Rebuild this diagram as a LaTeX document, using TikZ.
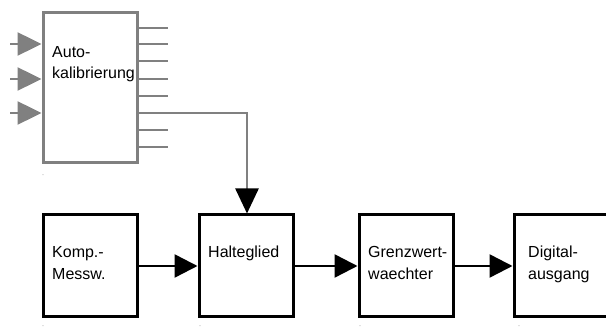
\documentclass[tikz,border=0pt]{standalone}
\usepackage{fontspec}
\setmainfont{Liberation Sans}
\usetikzlibrary{arrows.meta}
\definecolor{lgray}{HTML}{808080}
\tikzset{
  blk/.style={draw=black, line width=3pt, minimum width=94pt, minimum height=102pt, inner sep=0pt},
  gblk/.style={draw=lgray, line width=3pt, minimum width=94pt, minimum height=150pt, inner sep=0pt},
  lbl/.style={anchor=base west, inner sep=0pt, font=\fontsize{16}{22}\selectfont},
  tinymark/.style={inner sep=0pt, text=lgray, font=\fontsize{4}{4}\selectfont},
  barrow/.style={line width=2.5pt, -{Triangle[length=23pt, width=23pt]}},
  garrow/.style={draw=lgray, line width=2.5pt, -{Triangle[length=24pt, width=23pt, lgray]}},
  stub/.style={draw=lgray, line width=2.5pt},
}
\begin{document}
\begin{tikzpicture}[x=1pt, y=1pt]
\useasboundingbox (0,0) rectangle (606,329);
% Autokalibrierung block
\node[gblk] (auto) at (90,241) {};
\node[lbl] (autot1) at (52,271) {Auto-};
\node[lbl] (autot2) at (52,250) {kalibrierung};
\node[tinymark] (am) at (43,153) {''};
% inputs
\coordinate (i1) at (10,285);
\coordinate (i2) at (10,250);
\coordinate (i3) at (10,216);
\draw[garrow] (i1) -- (i1 -| auto.west);
\draw[garrow] (i2) -- (i2 -| auto.west);
\draw[garrow] (i3) -- (i3 -| auto.west);
% output stubs
\foreach \yy/\nm in {301/o1,285/o2,268/o3,250/o4,233/o5,216/o6,199/o7,182/o8}{
  \coordinate (\nm) at (168,\yy);
  \draw[stub] (auto.east |- \nm) -- (\nm);
}
% bottom blocks
\node[blk] (komp) at (90,63) {};
\node[blk] (halt) at (246,63) {};
\node[blk] (grenz) at (406,63) {};
\node[blk] (digi) at (561,63) {};
\node[lbl] (kt1) at (52,71) {Komp.-};
\node[lbl] (kt2) at (52,49) {Messw.};
\node[lbl] (ht1) at (208,71) {Halteglied};
\node[lbl] (gt1) at (368,71) {Grenzwert-};
\node[lbl] (gt2) at (368,49) {waechter};
\node[lbl] (dt1) at (528,71) {Digital-};
\node[lbl] (dt2) at (528,49) {ausgang};
\node[tinymark] (km) at (43,2) {''};
\node[tinymark] (hm) at (200,2) {''};
\node[tinymark] (gm) at (360,2) {''};
\node[tinymark] (dm) at (519,2) {''};
% connectors
\draw[barrow] (komp.east) -- (halt.west);
\draw[barrow] (halt.east) -- (grenz.west);
\draw[barrow] (grenz.east) -- (digi.west);
\coordinate (bend) at (247,216);
\draw[draw=lgray, line width=2.5pt, -{Triangle[length=25pt, width=23pt, black]}] (auto.east |- o6) -- (bend) -- (bend |- halt.north);
\end{tikzpicture}
\end{document}
